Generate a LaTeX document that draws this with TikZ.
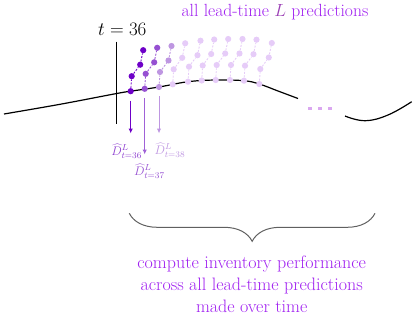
\RequirePackage{fix-cm}
\documentclass[tikz,border=0pt]{standalone}
\usetikzlibrary{arrows.meta,decorations.pathreplacing}
\definecolor{c0}{HTML}{6E00C8}
\definecolor{c1}{HTML}{9650D2}
\definecolor{c2}{HTML}{BE96E1}
\definecolor{c3}{HTML}{E6CCF8}
\definecolor{ellc}{HTML}{DAA8F0}
\definecolor{txtpurple}{HTML}{A020F0}
\definecolor{Lpurple}{HTML}{9B40B5}
\definecolor{bracegray}{HTML}{606060}
\tikzset{
  pdot/.style={circle,inner sep=0pt,minimum size=6.2pt},
  conn/.style={dash pattern=on 2pt off 1.5pt,line width=0.9pt},
  curve/.style={line width=1.2pt,black},
  predarrow/.style={line width=1pt,-{Latex[length=5pt,width=4.5pt]},shorten <=6pt},
  dlabel/.style={inner sep=0pt,font=\fontsize{12.5}{15}\selectfont},
  purpletext/.style={text=txtpurple,inner sep=0pt,font=\fontsize{18}{21.8}\selectfont},
}
\begin{document}
\begin{tikzpicture}[x=1pt,y=-1pt]
\useasboundingbox (0,0) rectangle (416,319);
% curve
\draw[curve] plot[smooth,tension=0.6] coordinates {(4,114) (60,104.3) (116.7,93.5) (130.7,91.2) (159,87) (188,81.7) (215.7,80) (244,80.7) (259.3,84) (278,91) (298,98.5)};
\draw[curve] plot[smooth,tension=0.7] coordinates {(345,116) (365,120.7) (388,115) (411.7,101.7)};
% vertical line at t=36
\node[inner sep=0pt,font=\fontsize{19}{22}\selectfont] (tlab) at (122.3,29) {$t=36$};
\coordinate (vt) at (116.7,41.7);
\coordinate (vb) at (116.7,124.3);
\draw[line width=1.2pt] (vt) -- (vb);
% prediction dots
\foreach \j/\x/\y/\c in {9/259.3/84/c3, 8/244/80.7/c3, 7/230/80/c3, 6/215.7/80/c3, 5/201.7/80.5/c3, 4/188/81.7/c3, 3/172.7/84.3/c3, 2/159/87/c2, 1/144.7/88.8/c1, 0/130.7/91.2/c0}{
  \node[pdot,fill=\c] (d-\j-0) at (\x,\y) {};
  \node[pdot,fill=\c] (d-\j-1) at (\x+1,\y-15) {};
  \node[pdot,fill=\c] (d-\j-2) at (\x+9.5,\y-26.5) {};
  \node[pdot,fill=\c] (d-\j-3) at (\x+12.5,\y-41) {};
  \draw[conn,draw=\c] (d-\j-0) -- (d-\j-1);
  \draw[conn,draw=\c] (d-\j-1) -- (d-\j-2);
  \draw[conn,draw=\c] (d-\j-2) -- (d-\j-3);
}
% ellipsis dots
\foreach \i/\x in {1/310,2/320,3/330}{
  \node[rectangle,inner sep=0pt,minimum size=3.2pt,fill=ellc] (e\i) at (\x,108.3) {};
}
% arrows
\coordinate (a0) at (130.7,133.5);
\coordinate (a1) at (144.7,154.5);
\coordinate (a2) at (159,133.5);
\draw[predarrow,draw=c0] (d-0-0) -- (a0);
\draw[predarrow,draw=c1!90] (d-1-0) -- (a1);
\draw[predarrow,draw=c2] (d-2-0) -- (a2);
\node[dlabel,text=c1!80!c0] (l0) at (126.7,151) {$\widehat{D}^{L}_{t=36}$};
\node[dlabel,text=c1] (l1) at (149.5,171) {$\widehat{D}^{L}_{t=37}$};
\node[dlabel,text=c2] (l2) at (170,150) {$\widehat{D}^{L}_{t=38}$};
% top text
\node[purpletext,font=\fontsize{17.6}{21}\selectfont] (top) at (275,12.5) {all lead-time \textcolor{Lpurple}{$L$} predictions};
% brace
\coordinate (br) at (375,213.3);
\coordinate (bl) at (129.3,213.3);
\draw[bracegray,line width=1pt,decorate,decoration={brace,amplitude=28pt}] (br) -- (bl);
% bottom text
\node[purpletext,align=center] (bottom) at (251.7,284) {compute inventory performance\\across all lead-time predictions\\made over time};
\end{tikzpicture}
\end{document}
